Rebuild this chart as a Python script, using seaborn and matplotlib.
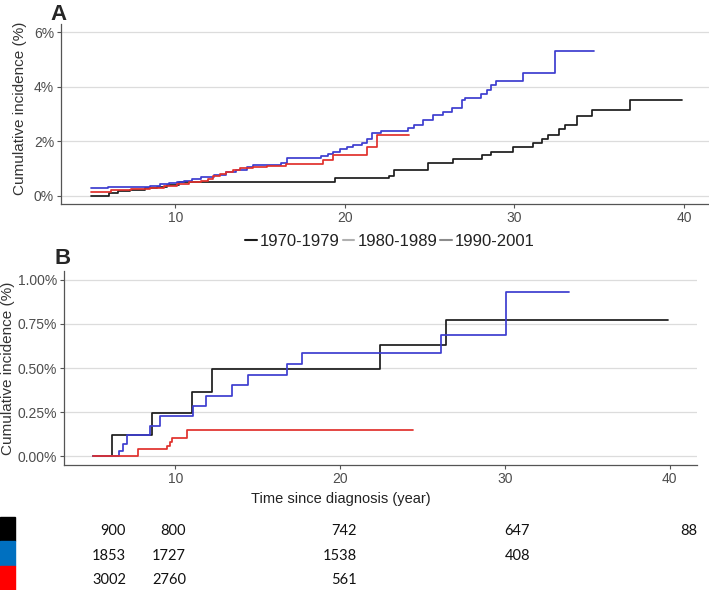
import matplotlib
matplotlib.use("Agg")
import matplotlib.pyplot as plt
import matplotlib.ticker as mticker
from matplotlib.lines import Line2D
from matplotlib.patches import Rectangle
import pandas as pd
import seaborn as sns

periods = ["1970-1979", "1980-1989", "1990-2001"]

# Panel A: cumulative incidence (%) step curves
a_time_70 = [5.0, 6.1, 6.6, 7.3, 8.2, 8.9, 9.5, 10.2, 19.4, 22.6, 22.9, 24.9, 26.4, 28.1, 28.6,
             29.9, 31.1, 31.6, 32.0, 32.6, 33.0, 33.7, 34.6, 36.8, 39.9]
a_ci_70 = [0.0, 0.1, 0.17, 0.22, 0.27, 0.32, 0.38, 0.5, 0.65, 0.73, 0.93, 1.2, 1.34, 1.48, 1.62,
           1.79, 1.93, 2.09, 2.23, 2.44, 2.58, 2.93, 3.15, 3.5, 3.5]
a_time_80 = [5.0, 6.0, 7.0, 8.5, 9.1, 9.6, 10.1, 10.5, 11.0, 11.5, 12.3, 13.0, 13.6, 14.2, 14.6,
             16.2, 16.6, 18.6, 19.0, 19.3, 19.7, 20.1, 20.5, 21.0, 21.3, 21.6, 22.1, 23.7, 24.1,
             24.6, 25.2, 25.8, 26.3, 26.9, 27.1, 28.0, 28.4, 28.6, 28.9, 30.5, 32.4, 34.7]
a_ci_80 = [0.28, 0.31, 0.34, 0.37, 0.42, 0.46, 0.5, 0.56, 0.62, 0.7, 0.78, 0.88, 0.95, 1.05, 1.13,
           1.2, 1.4, 1.47, 1.55, 1.62, 1.71, 1.78, 1.87, 1.95, 2.08, 2.3, 2.36, 2.48, 2.6,
           2.78, 2.97, 3.09, 3.21, 3.52, 3.58, 3.72, 3.88, 4.07, 4.21, 4.49, 5.32, 5.32]
a_time_90 = [5.0, 6.2, 7.4, 8.5, 9.3, 10.1, 10.8, 11.5, 11.9, 12.2, 12.6, 13.0, 13.4, 13.8, 14.6,
             15.4, 16.5, 17.5, 18.7, 19.3, 21.3, 21.9, 23.8]
a_ci_90 = [0.15, 0.2, 0.25, 0.3, 0.35, 0.42, 0.5, 0.56, 0.63, 0.71, 0.8, 0.89, 0.95, 1.01, 1.06,
           1.1, 1.15, 1.17, 1.32, 1.48, 1.78, 2.23, 2.23]

# Panel B
b_time_70 = [5.0, 6.14, 8.6, 11.0, 12.2, 22.4, 26.4, 39.9]
b_ci_70 = [0.0, 0.118, 0.246, 0.365, 0.492, 0.63, 0.77, 0.77]
b_time_80 = [5.0, 6.6, 6.83, 7.05, 8.47, 9.07, 11.06, 11.86, 13.42, 14.43, 16.8, 17.67, 26.1, 30.04, 33.9]
b_ci_80 = [0.0, 0.03, 0.07, 0.118, 0.17, 0.23, 0.284, 0.34, 0.405, 0.46, 0.52, 0.587, 0.687, 0.93, 0.93]
b_time_90 = [5.0, 7.72, 9.52, 9.68, 9.82, 10.69, 24.4]
b_ci_90 = [0.0, 0.038, 0.055, 0.08, 0.105, 0.148, 0.148]

# numbers at risk
risk_70 = ["900", "800", "742", "647", "88"]
risk_80 = ["1853", "1727", "1538", "408"]
risk_90 = ["3002", "2760", "561"]

line_colors = {"1970-1979": "#1c1c1c", "1980-1989": "#3d3dcf", "1990-2001": "#e0302c"}
legend_key_colors = ["#1c1c1c", "#b0b0b0", "#8c8c8c"]
table_colors = ["#000000", "#0070c0", "#ff0000"]


def to_long(times, values):
    frames = []
    for p, t, v in zip(periods, times, values):
        frames.append(pd.DataFrame({"time": t, "ci": v, "period": p}))
    return pd.concat(frames, ignore_index=True)


df_a = to_long([a_time_70, a_time_80, a_time_90], [a_ci_70, a_ci_80, a_ci_90])
df_b = to_long([b_time_70, b_time_80, b_time_90], [b_ci_70, b_ci_80, b_ci_90])

sns.set_style("white")
plt.rcParams["font.family"] = ["Liberation Sans", "DejaVu Sans"]

W, H = 709, 590
fig = plt.figure(figsize=(W / 100, H / 100), dpi=100)


def px_axes(left, top, right, bottom):
    return fig.add_axes([left / W, 1 - bottom / H, (right - left) / W, (bottom - top) / H])


ax_a = px_axes(61, 24, 712, 204)
ax_b = px_axes(64, 271, 697, 465)


def style(ax, ylim, yticks, fmt):
    ax.set_xlim(3.25, 41.65)
    ax.set_ylim(*ylim)
    ax.set_yticks(yticks)
    ax.set_xticks([10, 20, 30, 40])
    ax.yaxis.set_major_formatter(mticker.FuncFormatter(fmt))
    ax.grid(axis="y", color="#dcdcdc", linewidth=0.9)
    ax.grid(axis="x", visible=False)
    for s in ["top", "right"]:
        ax.spines[s].set_visible(False)
    for s in ["left", "bottom"]:
        ax.spines[s].set_color("#555555")
        ax.spines[s].set_linewidth(0.9)
    ax.tick_params(axis="both", length=3, width=0.8, color="#555555",
                   labelcolor="#4d4d4d", labelsize=10, pad=2,
                   left=True, bottom=True)
    ax.set_axisbelow(True)


for ax, df in [(ax_a, df_a), (ax_b, df_b)]:
    sns.lineplot(data=df, x="time", y="ci", hue="period", palette=line_colors,
                 estimator=None, drawstyle="steps-post", linewidth=1.25,
                 legend=False, ax=ax)

style(ax_a, (-0.3, 6.3), [0, 2, 4, 6], lambda v, p: f"{v:.0f}%")
style(ax_b, (-0.05, 1.05), [0, 0.25, 0.5, 0.75, 1.0], lambda v, p: f"{v:.2f}%")

ax_a.set_xlabel("")
ax_a.set_ylabel("Cumulative incidence (%)", fontsize=11, color="#333333")
ax_a.yaxis.set_label_coords(-0.052, 0.53)
ax_b.set_xlabel("Time since diagnosis (year)", fontsize=10.5, color="#222222")
ax_b.xaxis.set_label_coords((341 - 64) / 633, -0.14)
ax_b.set_ylabel("Cumulative incidence (%)", fontsize=11, color="#333333")
ax_b.yaxis.set_label_coords(-0.077, 0.5)

fig.text(50 / W, 1 - 15 / H, "A", fontsize=16, fontweight="bold", va="center", ha="left")
fig.text(54 / W, 1 - 258 / H, "B", fontsize=16, fontweight="bold", va="center", ha="left")

handles = [Line2D([], [], color=c, linewidth=1.5) for c in legend_key_colors]
fig.legend(handles, periods, loc="center", bbox_to_anchor=(390 / W, 1 - 241 / H),
           ncol=3, frameon=False, fontsize=12, handlelength=0.7, handletextpad=0.2,
           columnspacing=0.15, labelcolor="#222222")

# number-at-risk table
col_right = [126, 186, 357, 530, 697]
row_top = [517, 541, 566]
row_h = [24, 25, 24]
for rows, color, top, h in zip([risk_70, risk_80, risk_90], table_colors, row_top, row_h):
    fig.patches.append(Rectangle((0, 1 - (top + h) / H), 15 / W, h / H,
                                 transform=fig.transFigure, color=color, zorder=3))
    for txt, xr in zip(rows, col_right):
        fig.text(xr / W, 1 - (top + h / 2 + 2) / H, txt, ha="right", va="center",
                 fontsize=10.5, family=["Lato", "DejaVu Sans"], color="#111111")

fig.savefig("out.png", dpi=100)
